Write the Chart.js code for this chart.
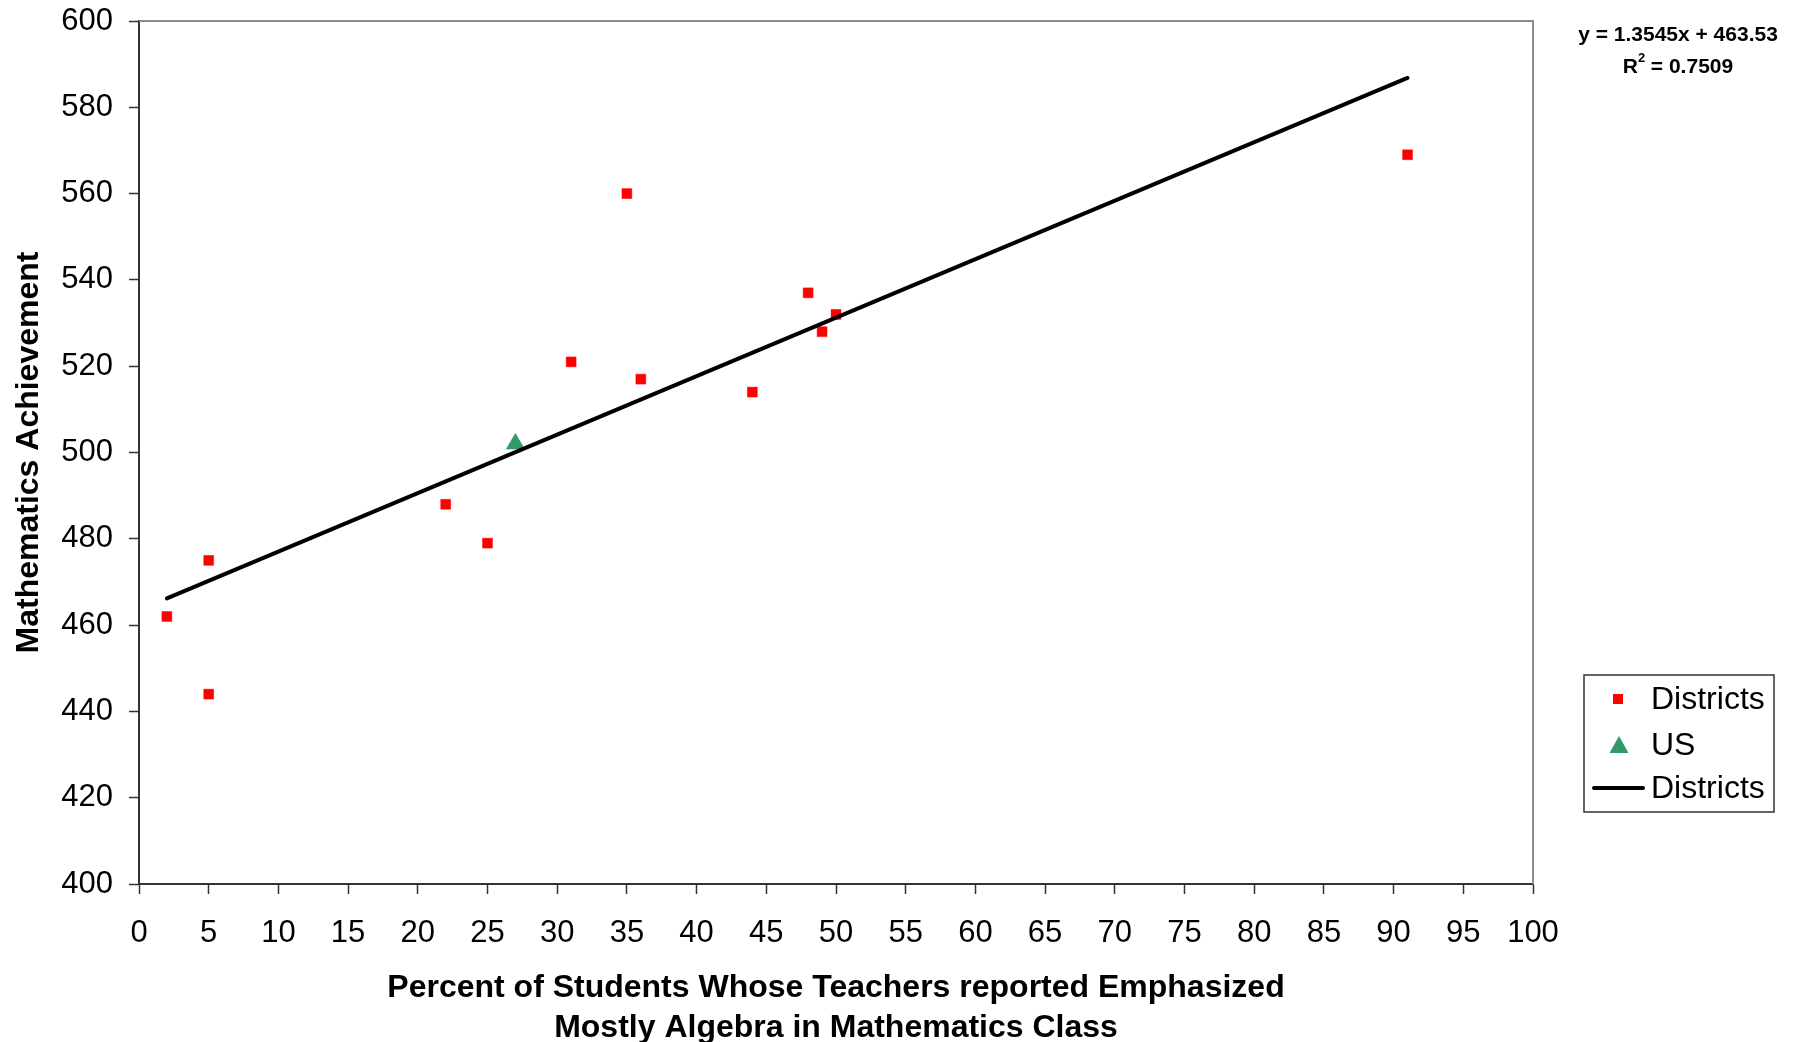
<!DOCTYPE html>
<html>
<head>
<meta charset="utf-8">
<script src="https://cdn.jsdelivr.net/npm/chart.js@4/dist/chart.umd.min.js"></script>
<style>
  html, body { margin: 0; padding: 0; background: #fff; }
  canvas { display: block; }
</style>
</head>
<body>
<canvas id="chart" width="1796" height="1042"></canvas>
<script>
const districtX = [2, 5, 5, 22, 25, 31, 35, 36, 44, 48, 49, 50, 91];
const districtY = [462, 475, 444, 488, 479, 521, 560, 517, 514, 537, 528, 532, 569];
const usX = [27];
const usY = [502];
// trendline end points (y = 1.3545x + 463.53)
const trendX = [2, 91];
const trendY = [466.2, 586.8];

const equationLines = ["y = 1.3545x + 463.53", "R", " = 0.7509"];
const legendLabels = ["Districts", "US", "Districts"];
const xTitle = ["Percent of Students Whose Teachers reported Emphasized", "Mostly Algebra in Mathematics Class"];
const yTitle = "Mathematics Achievement";

const FONT = '"Liberation Sans", Arial, sans-serif';
const RED = "#ff0000";
const GREEN = "#339966";

const pts = (xs, ys) => xs.map((x, i) => ({ x: x, y: ys[i] }));

const extras = {
  id: "extras",
  afterDraw(chart) {
    const ctx = chart.ctx;
    const a = chart.chartArea;
    ctx.save();

    // plot area frame (top / right)
    ctx.strokeStyle = "#8c8c8c";
    ctx.lineWidth = 2;
    ctx.beginPath();
    ctx.moveTo(a.left, a.top);
    ctx.lineTo(a.right, a.top);
    ctx.lineTo(a.right, a.bottom);
    ctx.stroke();

    // trendline equation
    ctx.fillStyle = "#000";
    ctx.font = "bold 21px " + FONT;
    ctx.textAlign = "center";
    ctx.textBaseline = "middle";
    ctx.fillText(equationLines[0], 1678, 35);
    const w1 = ctx.measureText(equationLines[1]).width;
    const w2 = ctx.measureText(equationLines[2]).width;
    const sx = 1678 - (w1 + 7 + w2) / 2;
    ctx.textAlign = "left";
    ctx.fillText(equationLines[1], sx, 67);
    ctx.font = "bold 13px " + FONT;
    ctx.fillText("2", sx + w1, 58);
    ctx.font = "bold 21px " + FONT;
    ctx.fillText(equationLines[2], sx + w1 + 7, 67);

    // legend
    ctx.strokeStyle = "#333";
    ctx.lineWidth = 1.5;
    ctx.strokeRect(1584, 675, 190, 137);
    ctx.font = "32px " + FONT;
    ctx.textBaseline = "middle";
    ctx.fillStyle = "#000";
    const rows = [699, 745, 788];
    legendLabels.forEach((t, i) => ctx.fillText(t, 1651, rows[i] + 1));

    ctx.fillStyle = RED;
    ctx.fillRect(1613, rows[0] - 5, 10, 10);

    ctx.fillStyle = GREEN;
    ctx.beginPath();
    ctx.moveTo(1619, rows[1] - 9);
    ctx.lineTo(1628.5, rows[1] + 8);
    ctx.lineTo(1609.5, rows[1] + 8);
    ctx.closePath();
    ctx.fill();

    ctx.strokeStyle = "#000";
    ctx.lineWidth = 4;
    ctx.lineCap = "round";
    ctx.beginPath();
    ctx.moveTo(1594, rows[2]);
    ctx.lineTo(1643, rows[2]);
    ctx.stroke();

    ctx.restore();
  }
};

new Chart(document.getElementById("chart"), {
  type: "scatter",
  data: {
    datasets: [
      {
        label: "Districts trend",
        data: pts(trendX, trendY),
        showLine: true,
        borderColor: "#000",
        borderWidth: 4,
        borderCapStyle: "round",
        pointRadius: 0,
        order: 0
      },
      {
        label: "Districts",
        data: pts(districtX, districtY),
        pointStyle: "rect",
        pointRadius: 7,
        backgroundColor: RED,
        borderColor: RED,
        borderWidth: 0.5,
        order: 1
      },
      {
        label: "US",
        data: pts(usX, usY),
        pointStyle: "triangle",
        pointRadius: 10.5,
        backgroundColor: GREEN,
        borderColor: GREEN,
        borderWidth: 0.5,
        order: 2
      }
    ]
  },
  options: {
    responsive: false,
    devicePixelRatio: 1,
    animation: false,
    events: [],
    layout: { padding: { left: 0, right: 263, top: 21, bottom: 0 } },
    plugins: {
      legend: { display: false },
      tooltip: { enabled: false }
    },
    scales: {
      x: {
        type: "linear",
        min: 0,
        max: 100,
        afterFit(s) { s.height = 158; s.paddingLeft = 0; s.paddingRight = 0; },
        ticks: { stepSize: 5, color: "#000", padding: 21, font: { family: FONT, size: 31 } },
        grid: { drawOnChartArea: false, drawTicks: true, tickLength: 10, tickWidth: 1.5, tickColor: "#333" },
        border: { display: true, color: "#333", width: 2 },
        title: {
          display: true,
          text: xTitle,
          color: "#000",
          font: { family: FONT, size: 32, weight: "bold", lineHeight: "40px" },
          padding: { top: 0, bottom: -6 }
        }
      },
      y: {
        type: "linear",
        min: 400,
        max: 600,
        afterFit(s) { s.width = 139; s.paddingTop = 0; s.paddingBottom = 0; },
        ticks: { stepSize: 20, color: "#000", padding: 16, font: { family: FONT, size: 31 } },
        grid: { drawOnChartArea: false, drawTicks: true, tickLength: 10, tickWidth: 1.5, tickColor: "#333" },
        border: { display: true, color: "#333", width: 2 },
        title: {
          display: true,
          text: yTitle,
          color: "#000",
          font: { family: FONT, size: 32, weight: "bold", lineHeight: 1.2 },
          padding: { top: 10, bottom: 0 }
        }
      }
    }
  },
  plugins: [extras]
});
</script>
</body>
</html>
